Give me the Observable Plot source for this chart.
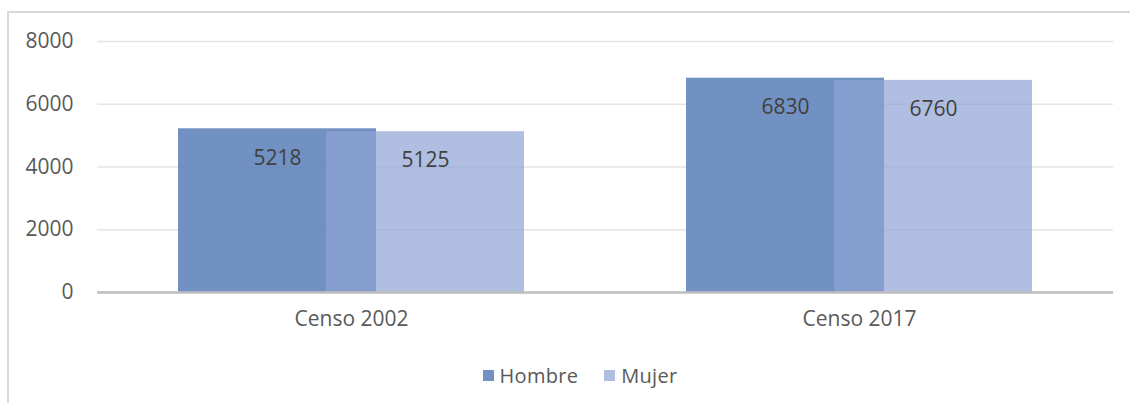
<!DOCTYPE html>
<html>
<head>
<meta charset="utf-8">
<script src="https://cdn.jsdelivr.net/npm/d3@7"></script>
<script src="https://cdn.jsdelivr.net/npm/@observablehq/plot@0.6"></script>
<style>
  html, body { margin: 0; padding: 0; background: #fff; }
  #wrap { position: relative; width: 1130px; height: 403px; overflow: hidden; font-family: "Open Sans", sans-serif; }
  #frame { position: absolute; left: 7px; top: 11px; width: 1300px; height: 600px; border-left: 2px solid #d9d9d9; border-top: 2px solid #d9d9d9; }
  #chart { position: absolute; left: 0; top: 0; }
  #legend { position: absolute; top: 362px; left: 0; width: 1160px; display: flex; justify-content: center; gap: 26px; font-size: 20px; color: #595959; letter-spacing: 0.3px; }
  .item { display: flex; align-items: center; }
  .sw { width: 11px; height: 11px; margin-right: 6px; }
</style>
</head>
<body>
<div id="wrap">
  <div id="frame"></div>
  <div id="chart"></div>
  <div id="legend"></div>
</div>
<script>
const categories = ["Censo 2002", "Censo 2017"];
const series = ["Hombre", "Mujer"];
const hombre = [5218, 6830];
const mujer = [5125, 6760];
const yTicks = [0, 2000, 4000, 6000, 8000];
const colors = {Hombre: "#7391C4", Mujer: "#B0BFE1"};

const rows = [];
categories.forEach((c, i) => {
  rows.push({category: c, sex: "Hombre", value: hombre[i]});
  rows.push({category: c, sex: "Mujer", value: mujer[i]});
});

const chart = Plot.plot({
  width: 1130,
  height: 340,
  marginLeft: 97,
  marginRight: 17,
  marginTop: 41,
  marginBottom: 48,
  style: {fontFamily: "Open Sans, sans-serif", fontSize: "21px", color: "#595959", background: "transparent"},
  facet: {data: rows, x: "category"},
  fx: {domain: categories, padding: 0, label: null, axis: "bottom", tickSize: 0, tickPadding: 19},
  x: {domain: series, type: "band", paddingInner: 0, paddingOuter: 0.705, axis: null},
  y: {domain: [0, 8000], axis: null},
  marks: [
    Plot.gridY(yTicks, {stroke: "#e4e4e4", strokeOpacity: 1, strokeWidth: 1.5}),
    Plot.barY(rows, {filter: d => d.sex === "Hombre", x: "sex", y: "value", fill: "#6385BD", fillOpacity: 0.9, insetLeft: -25, insetRight: -25}),
    Plot.barY(rows, {filter: d => d.sex === "Mujer", x: "sex", y: "value", fill: "#8EA4D4", fillOpacity: 0.7, insetLeft: -25, insetRight: -25}),
    Plot.text(rows, {x: "sex", y: "value", text: d => String(d.value), dy: 29, fill: "#404040", fontSize: 21}),
    Plot.ruleY([0], {stroke: "#bfbfbf", strokeWidth: 2.5}),
    Plot.axisY(yTicks, {label: null, tickSize: 0, tickPadding: 24, tickFormat: d => String(d), fontSize: 21, fill: "#595959"})
  ]
});
document.getElementById("chart").appendChild(chart);

const legend = document.getElementById("legend");
series.forEach(s => {
  const item = document.createElement("div");
  item.className = "item";
  const sw = document.createElement("div");
  sw.className = "sw";
  sw.style.background = colors[s];
  const t = document.createElement("span");
  t.textContent = s;
  item.appendChild(sw);
  item.appendChild(t);
  legend.appendChild(item);
});
</script>
</body>
</html>
